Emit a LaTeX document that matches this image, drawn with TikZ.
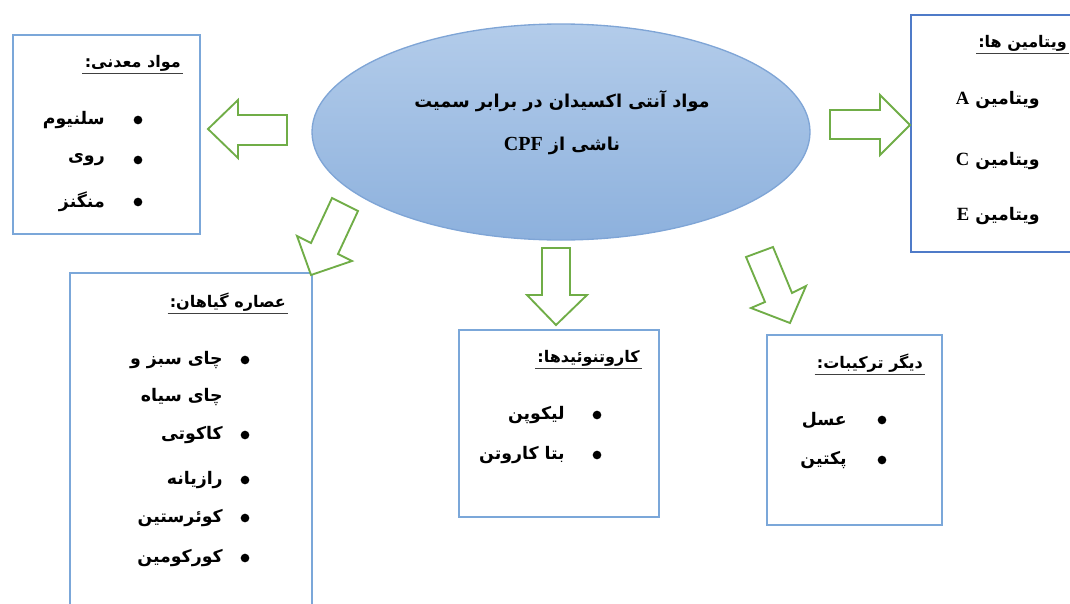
\documentclass[tikz,border=0pt]{standalone}
\usepackage{fontspec}
\setmainfont{Liberation Serif}
\newfontfamily\fa[Script=Arabic]{DejaVu Sans}
\TeXXeTstate=1
\usetikzlibrary{shapes.geometric,fit}
\definecolor{boxblue}{HTML}{7BA7D9}
\definecolor{boxblueb}{HTML}{4F7BC8}
\definecolor{arrgreen}{HTML}{70AD47}
\definecolor{elltop}{HTML}{B3CCEA}
\definecolor{ellbot}{HTML}{8DB1DD}
\definecolor{ellline}{HTML}{7FA5D6}
\newcommand{\myrtl}[1]{\beginR #1\endR}
\newcommand{\lat}[1]{{\rmfamily\bfseries\fontsize{14}{16}\selectfont #1}}
\begin{document}
\begin{tikzpicture}[x=0.75pt,y=-0.75pt,
  box/.style={draw=boxblue,line width=1.3pt,inner sep=0pt,fill=white},
  boxb/.style={box,draw=boxblueb},
  blockarrow/.style={draw=arrgreen,line width=1.4pt,fill=white,line join=miter},
  ttl/.style={font=\fa\bfseries\fontsize{12}{14}\selectfont,anchor=east,inner sep=1.5pt},
  item/.style={font=\fa\bfseries\fontsize{13}{15}\selectfont,anchor=east,inner sep=0pt},
  bul/.style={circle,fill=black,inner sep=0pt,minimum size=6.5pt},
  uline/.style={draw=black!75,line width=0.8pt}]
\useasboundingbox (0,0) rectangle (1070,603);
\clip (0,0) rectangle (1070,603);

% central ellipse
\node[ellipse,draw=ellline,line width=1pt,top color=elltop,bottom color=ellbot,
  minimum width=373.5pt,minimum height=162pt,inner sep=0pt] (center) at (561,132) {};
\node[font=\fa\bfseries\fontsize{13.3}{32}\selectfont,align=center] (ctext) at (562,123)
  {\myrtl{مواد آنتی اکسیدان در برابر سمیت}\\ \myrtl{ناشی از {\rmfamily\bfseries\fontsize{15}{16}\selectfont CPF}}};

% boxes
\node[box,fit={(13,35) (200,234)}] (minb) {};
\node[boxb,fit={(911,15) (1080,252)}] (vitb) {};
\node[box,fit={(70,273) (312,620)}] (plantb) {};
\node[box,fit={(459,330) (659,517)}] (carb) {};
\node[box,fit={(767,335) (942,525)}] (othb) {};

% block arrows
\draw[blockarrow] (287,115) -- (238,115) -- (238,100) -- (208,129) -- (238,158) -- (238,145) -- (287,145) -- cycle;
\draw[blockarrow] (830,110) -- (880,110) -- (880,95) -- (910,125) -- (880,155) -- (880,139) -- (830,139) -- cycle;
\draw[blockarrow] (542,248) -- (570,248) -- (570,295) -- (587,295) -- (556,325) -- (527,295) -- (542,295) -- cycle;
\draw[blockarrow] (332,198) -- (358,211) -- (338,254) -- (352,261) -- (311,275) -- (297,236) -- (311,243) -- cycle;
\draw[blockarrow] (746,257) -- (773,247) -- (792,293) -- (806,286) -- (790,323) -- (751,308) -- (765,302) -- cycle;

% minerals
\node[ttl] (mint) at (183,63) {\myrtl{مواد معدنی:}};
\draw[uline] (mint.south west) -- (mint.south east);
\node[bul] (minb1) at (138,120) {};
\node[bul] (minb2) at (138,160) {};
\node[bul] (minb3) at (138,202) {};
\node[item] (mini1) at (105,120) {\myrtl{سلنیوم}};
\node[item] (mini2) at (105,160) {\myrtl{روی}};
\node[item] (mini3) at (105,202) {\myrtl{منگنز}};

% vitamins
\node[ttl] (vitt) at (1069,43) {\myrtl{ویتامین ها:}};
\draw[uline] (vitt.south west) -- (vitt.south east);
\node[item] (viti1) at (1040,100) {\myrtl{ویتامین \lat{A}}};
\node[item] (viti2) at (1040,161) {\myrtl{ویتامین \lat{C}}};
\node[item] (viti3) at (1040,216) {\myrtl{ویتامین \lat{E}}};

% plant extracts
\node[ttl] (plantt) at (288,302) {\myrtl{عصاره گیاهان:}};
\draw[uline] (plantt.south west) -- (plantt.south east);
\node[bul] (plb1) at (245,360) {};
\node[bul] (plb2) at (245,435) {};
\node[bul] (plb3) at (245,480) {};
\node[bul] (plb4) at (245,518) {};
\node[bul] (plb5) at (245,558) {};
\node[item] (pli1) at (223,360) {\myrtl{چای سبز و}};
\node[item] (pli1b) at (223,397) {\myrtl{چای سیاه}};
\node[item] (pli2) at (223,435) {\myrtl{کاکوتی}};
\node[item] (pli3) at (223,480) {\myrtl{رازیانه}};
\node[item] (pli4) at (223,518) {\myrtl{کوئرستین}};
\node[item] (pli5) at (223,558) {\myrtl{کورکومین}};

% carotenoids
\node[ttl] (cart) at (642,358) {\myrtl{کاروتنوئیدها:}};
\draw[uline] (cart.south west) -- (cart.south east);
\node[bul] (carb1) at (597,415) {};
\node[bul] (carb2) at (597,455) {};
\node[item] (cari1) at (565,415) {\myrtl{لیکوپن}};
\node[item] (cari2) at (565,455) {\myrtl{بتا کاروتن}};

% other compounds
\node[ttl] (otht) at (925,363) {\myrtl{دیگر ترکیبات:}};
\draw[uline] (otht.south west) -- (otht.south east);
\node[bul] (othb1) at (882,420) {};
\node[bul] (othb2) at (882,460) {};
\node[item] (othi1) at (847,420) {\myrtl{عسل}};
\node[item] (othi2) at (847,460) {\myrtl{پکتین}};
\end{tikzpicture}
\end{document}
